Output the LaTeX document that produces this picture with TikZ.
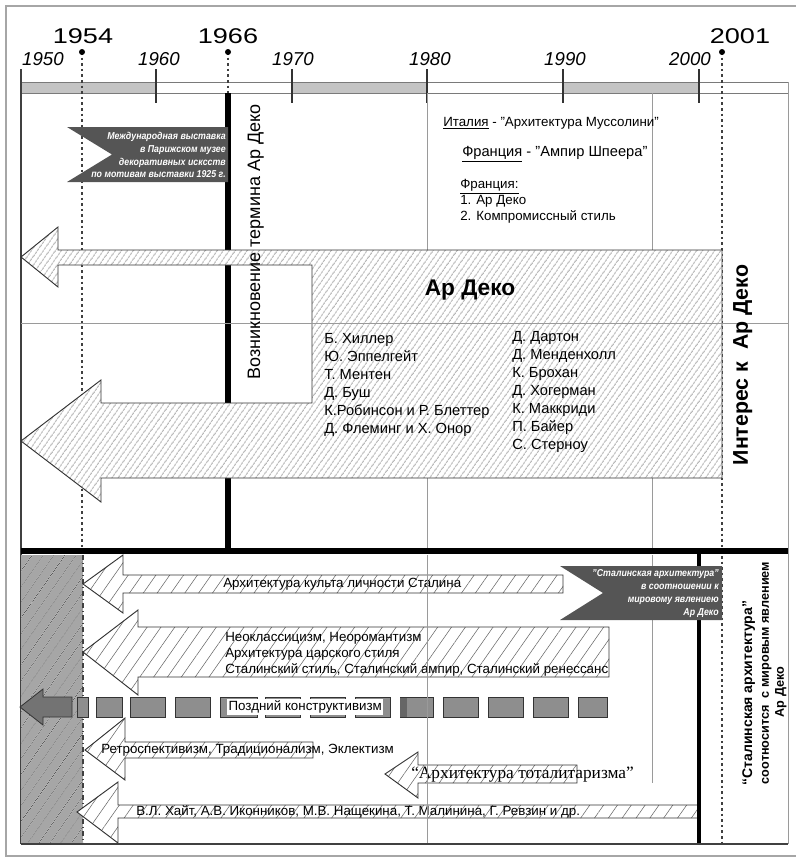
\documentclass[tikz,border=0pt]{standalone}
\usepackage{fontspec}
\setmainfont{Liberation Sans}
\newfontfamily\serifru{Liberation Serif}
\usetikzlibrary{patterns.meta}
\definecolor{barg}{HTML}{C4C4C4}
\definecolor{gridc}{HTML}{9A9A9A}
\definecolor{flagc}{HTML}{555555}
\definecolor{hatchc}{HTML}{333333}
\definecolor{lgray}{HTML}{A6A6A6}
\definecolor{dashc}{HTML}{8E8E8E}
\definecolor{framec}{HTML}{7A7A7A}
\newcommand{\narrowtxt}[1]{\scalebox{0.88}[1]{#1}}
\begin{document}
\begin{tikzpicture}[x=0.75pt,y=-0.75pt,
  t/.style={inner sep=0pt, execute at begin node=\strut},
  yearsm/.style={t, font=\fontsize{14}{16}\selectfont\itshape},
  yearbig/.style={t, font=\fontsize{16}{18}\selectfont},
  dotline/.style={black!75, line width=1pt, dash pattern=on 2pt off 2.2pt},
  gridline/.style={gridc, line width=0.6pt},
  uhatch/.style={draw=black!80, line width=0.7pt, preaction={fill=white},
    pattern={Lines[angle=55,distance=4pt,line width=0.45pt]}, pattern color=hatchc},
  lhatch/.style={draw=black!80, line width=0.7pt, preaction={fill=white},
    pattern={Lines[angle=55,distance=8.5pt,line width=0.4pt]}, pattern color=black!60},
  flagshape/.style={fill=flagc},
  flagtxt/.style={t, anchor=east, text=white, font=\fontsize{7.5}{9}\selectfont\bfseries\itshape},
  names/.style={t, anchor=west, font=\fontsize{11}{13}\selectfont},
  small/.style={t, anchor=west, font=\fontsize{10}{12}\selectfont},
  dashbox/.style={fill=dashc, draw=black!80, line width=0.6pt},
]
\useasboundingbox (0,0) rectangle (796,857);
% outer border
\draw[black!35, line width=0.8pt] (796,6) -- (6,6) -- (6,856) -- (796,856);
% timeline bar
\fill[barg] (21,82) rectangle (156,93);
\fill[barg] (292,82) rectangle (427,93);
\fill[barg] (563,82) rectangle (699,93);
\draw[framec, line width=0.6pt] (21,82) rectangle (788,93);
\foreach \x in {156,292,427,563,699} \draw[black!80, line width=1pt] (\x,69) -- (\x,103);
\draw[black!75, line width=1pt] (21,69) -- (21,844);
% year labels
\node[yearsm] (y1950) at (43,61) {1950};
\node[yearsm] (y1960) at (159,61) {1960};
\node[yearsm] (y1970) at (293,61) {1970};
\node[yearsm] (y1980) at (430,61) {1980};
\node[yearsm] (y1990) at (565,61) {1990};
\node[yearsm] (y2000) at (690,61) {2000};
\node[yearbig] (b1954) at (83,39) {\scalebox{1.27}[1]{1954}};
\node[yearbig] (b1966) at (228,39) {\scalebox{1.27}[1]{1966}};
\node[yearbig] (b2001) at (740,39) {\scalebox{1.27}[1]{2001}};
% grid upper
\draw[gridline] (427,93) -- (427,548);
\draw[gridline] (652,93) -- (652,548);
\draw[gridline] (788,82) -- (788,844);
% dotted year lines
\draw[dotline] (82,52) -- (82,548);
\draw[dotline] (228,52) -- (228,93);
\draw[dotline] (722,52) -- (722,844);
\fill (82,52) circle (3);
\fill (228,52) circle (3);
\fill (722,52) circle (3);
% thick 1966 line
\draw[line width=3.8pt] (228,93) -- (228,548);
% upper hatched shape
\draw[uhatch] (21,257) -- (58,227) -- (58,250) -- (722,250) -- (722,478) -- (101,478)
  -- (101,502) -- (21,441) -- (101,380) -- (101,403) -- (312,403) -- (312,265)
  -- (58,265) -- (58,287) -- cycle;
\draw[gridline] (21,323) -- (788,323);
% upper texts
\node[t, font=\fontsize{17}{19}\selectfont\bfseries] (ardeco) at (470,290) {Ар Деко};
\node[t, rotate=90, font=\fontsize{13.5}{15}\selectfont] (voz) at (256,242) {Возникновение термина Ар Деко};
\node[t, rotate=90, font=\fontsize{16}{18}\selectfont\bfseries] (inter) at (743,365) {Интерес к~~Ар Деко};
\foreach \s [count=\i] in {Б. Хиллер, Ю. Эппелгейт, Т. Ментен, Д. Буш, К.Робинсон и Р. Блеттер, Д. Флеминг и Х. Онор}
  \node[names] (nl\i) at (324,{322+18*\i}) {\s};
\foreach \s [count=\i] in {Д. Дартон, Д. Менденхолл, К. Брохан, Д. Хогерман, К. Маккриди, П. Байер, С. Стерноу}
  \node[names] (nr\i) at (512,{320+18*\i}) {\s};
\node[small] (ital) at (443,123) {\underline{Италия} - "Архитектура Муссолини"};
\node[t, anchor=west, font=\fontsize{11}{13}\selectfont] (fr1) at (462,153) {\underline{Франция} - "Ампир Шпеера"};
\node[small] (fr2) at (460,186) {\underline{Франция:}};
\node[small] (fr3) at (460,201) {1. Ар Деко};
\node[small] (fr4) at (460,217) {2. Компромиссный стиль};
% flag top-left
\fill[flagshape] (67,127) -- (228,127) -- (228,182) -- (67,182) -- (112,154.5) -- cycle;
\node[flagtxt] (fa1) at (226,137) {\narrowtxt{Международная выставка}};
\node[flagtxt] (fa2) at (226,150) {\narrowtxt{в Парижском музее}};
\node[flagtxt] (fa3) at (226,163) {\narrowtxt{декоративных исксств}};
\node[flagtxt] (fa4) at (226,175) {\narrowtxt{по мотивам выставки 1925 г.}};
% bottom-left gray hatched area
\fill[lgray] (21,555) rectangle (83,844);
\path[pattern={Lines[angle=55,distance=7.4pt,line width=0.45pt]}, pattern color=black!65] (21,555) rectangle (83,844);
\draw[black!75, line width=0.8pt, dash pattern=on 4pt off 2pt on 1pt off 2pt] (83,555) -- (83,844);
% bottom arrows
\draw[lhatch] (83,584) -- (123,555) -- (123,575) -- (563,575) -- (563,593) -- (123,593) -- (123,613) -- cycle;
\node[small] (a1) at (223,584) {Архитектура культа личности Сталина};
\draw[lhatch] (83,652) -- (138,610) -- (138,627) -- (609,627) -- (609,677) -- (138,677) -- (138,695) -- cycle;
\node[small] (a2a) at (225,638) {Неоклассицизм, Неоромантизм};
\node[small] (a2b) at (225,654) {Архитектура царского стиля};
\node[small] (a2c) at (225,670) {Сталинский стиль, Сталинский ампир, Сталинский ренессанс};
% dashed arrow
\draw[dashbox, fill=black!55] (20,707) -- (43,689) -- (43,697) -- (72,697) -- (72,717) -- (43,717) -- (43,725) -- cycle;
\foreach \a/\b in {77/88,96/122,130/165,175/210,220/257,265/300,310/345,355/390,400/433,443/478,488/523,533/568,578/607}
  \draw[dashbox] (\a,697) rectangle (\b,717);
\fill[black!60] (400,697.5) rectangle (407,716.5);
\node[small, fill=white, inner xsep=1pt] (pk) at (227,707) {Поздний конструктивизм};
\draw[lhatch] (85,750) -- (125,718) -- (125,742) -- (313,742) -- (313,758) -- (125,758) -- (125,780) -- cycle;
\node[small] (a4) at (101,750) {Ретроспективизм, Традиционализм, Эклектизм};
\draw[lhatch] (385,774) -- (418,752) -- (418,765) -- (577,765) -- (577,783) -- (418,783) -- (418,798) -- cycle;
\node[t, anchor=west, font=\fontsize{13}{15}\selectfont\serifru] (a5) at (411,774) {“Архитектура тоталитаризма”};
\draw[lhatch] (77,812) -- (118,782) -- (118,805) -- (698,805) -- (698,818) -- (118,818) -- (118,843) -- cycle;
\node[small] (a6) at (136,812) {В.Л. Хайт, А.В. Иконников, М.В. Нащекина, Т. Малинина, Г. Ревзин и др.};
% bottom grid
\draw[gridline] (427,555) -- (427,844);
\draw[gridline] (652,555) -- (652,783);
% thick lines
\draw[line width=4.5pt] (21,551) -- (788,551);
\draw[line width=3.5pt] (699,551) -- (699,844);
\draw[black!75, line width=1pt] (21,844) -- (788,844);
% flag bottom-right
\fill[flagshape] (560,566) -- (722,566) -- (722,620) -- (560,620) -- (603,593) -- cycle;
\node[flagtxt] (fb1) at (719,574) {\narrowtxt{"Сталинская архитектура"}};
\node[flagtxt] (fb2) at (719,587) {\narrowtxt{в соотношении к}};
\node[flagtxt] (fb3) at (719,600) {\narrowtxt{мировому явлениею}};
\node[flagtxt] (fb4) at (719,613) {\narrowtxt{Ар Деко}};
% right vertical text
\node[t, rotate=90, font=\fontsize{10.5}{12}\selectfont\bfseries] (rv1) at (749,693) {“Сталинская архитектура”};
\node[t, rotate=90, font=\fontsize{9.5}{11}\selectfont\bfseries] (rv2) at (766,673) {соотносится~~с мировым явлением};
\node[t, rotate=90, font=\fontsize{9.5}{11}\selectfont\bfseries] (rv3) at (781,692) {Ар Деко};
\end{tikzpicture}
\end{document}
